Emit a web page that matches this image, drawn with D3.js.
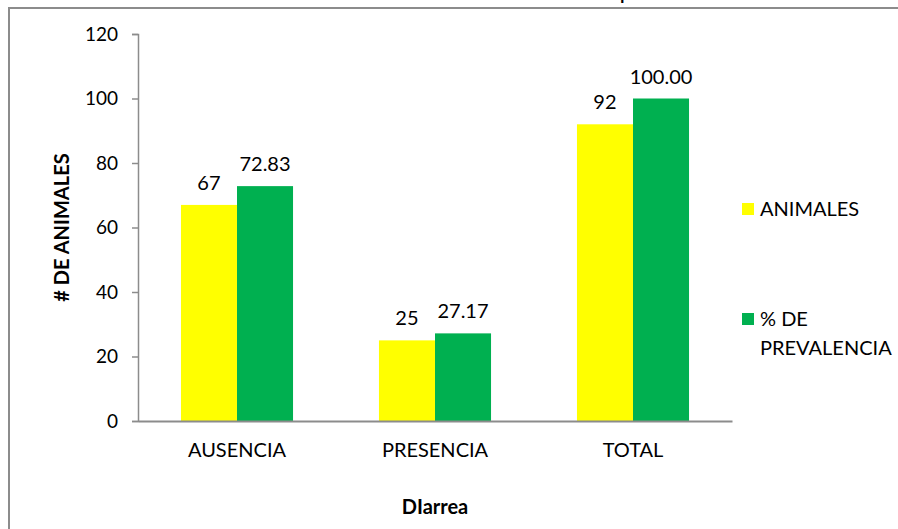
<!DOCTYPE html>
<html>
<head>
<meta charset="utf-8">
<script src="https://cdn.jsdelivr.net/npm/d3@7"></script>
<style>
  html, body { margin: 0; padding: 0; background: #fff; }
  svg { display: block; }
  text { font-family: Lato, "Open Sans", sans-serif; fill: #000; }
</style>
</head>
<body>
<svg id="chart" width="898" height="529"></svg>
<script>
// Diarrhoea: number of animals and prevalence by category
const categories = ["AUSENCIA", "PRESENCIA", "TOTAL"];
const animales = [67, 25, 92];
const prevalencia = [72.83, 27.17, 100.00];
const seriesNames = ["ANIMALES", "% DE PREVALENCIA"];
const yTicks = [0, 20, 40, 60, 80, 100, 120];

const colors = ["#FFFF00", "#00B050"];
const svg = d3.select("#chart");

// Heading that sits above the frame
svg.append("text")
  .attr("x", 4).attr("y", -1)
  .style("font-size", "24px")
  .text("Gráfica 3. Número de animales afectados con diarrea en la población en estudio");

// Outer frame (left and top edges visible)
svg.append("path")
  .attr("d", "M9,529 L9,8 L898,8")
  .attr("fill", "none")
  .attr("stroke", "#8c8c8c")
  .attr("stroke-width", 2);

const plot = { left: 138, right: 732, top: 34, bottom: 421 };

const x0 = d3.scaleBand().domain(categories)
  .range([plot.left, plot.right]).paddingInner(0.434).paddingOuter(0.217);
const x1 = d3.scaleBand().domain([0, 1]).range([0, x0.bandwidth()]);
const y = d3.scaleLinear().domain([0, 120]).range([plot.bottom, plot.top]);

// Bars
const rows = categories.map((c, i) => ({ cat: c, vals: [animales[i], prevalencia[i]] }));
const g = svg.append("g");
const groups = g.selectAll("g.cat").data(rows).join("g")
  .attr("transform", d => `translate(${x0(d.cat)},0)`);
groups.selectAll("rect").data(d => d.vals).join("rect")
  .attr("x", (d, i) => x1(i))
  .attr("width", x1.bandwidth())
  .attr("y", d => y(d))
  .attr("height", d => y(0) - y(d))
  .attr("fill", (d, i) => colors[i]);

// Value labels
groups.selectAll("text.val").data(d => d.vals).join("text")
  .attr("class", "val")
  .attr("x", (d, i) => x1(i) + x1.bandwidth() / 2)
  .attr("y", d => y(d) - 15)
  .attr("text-anchor", "middle")
  .style("font-size", "20px")
  .text((d, i) => i === 0 ? d3.format("d")(d) : d3.format(".2f")(d));

// Y axis
const yAxis = svg.append("g")
  .attr("transform", `translate(${plot.left},0)`)
  .call(d3.axisLeft(y).tickValues(yTicks).tickSize(6).tickPadding(14));
yAxis.selectAll("path, line").attr("stroke", "#8c8c8c").attr("stroke-width", 1.5);
yAxis.selectAll("text").style("font-size", "19px").style("font-family", "Lato, sans-serif").attr("fill", "#000");

// X axis
const xAxis = svg.append("g")
  .attr("transform", `translate(0,${plot.bottom})`)
  .call(d3.axisBottom(x0).tickSize(0).tickPadding(22));
xAxis.select("path").attr("stroke", "#8c8c8c").attr("stroke-width", 2);
xAxis.selectAll("text").style("font-size", "20px").style("font-family", "Lato, sans-serif").attr("fill", "#000");

// Axis titles
svg.append("text")
  .attr("transform", `translate(69,${(plot.top + plot.bottom) / 2}) rotate(-90)`)
  .attr("text-anchor", "middle")
  .style("font-size", "20px").style("font-weight", "bold")
  .text("# DE ANIMALES");
svg.append("text")
  .attr("x", (plot.left + plot.right) / 2).attr("y", 514)
  .attr("text-anchor", "middle")
  .style("font-size", "20px").style("font-weight", "bold")
  .text("DIarrea");

// Legend
const legendY = [209, 319];
const legend = svg.append("g");
seriesNames.forEach((name, i) => {
  legend.append("rect")
    .attr("x", 742).attr("y", legendY[i] - 6)
    .attr("width", 12).attr("height", 12)
    .attr("fill", colors[i]);
});
legend.append("text").attr("x", 760).attr("y", legendY[0] + 7)
  .style("font-size", "20px").text(seriesNames[0]);
const t2 = legend.append("text").attr("x", 760).attr("y", legendY[1] + 7)
  .style("font-size", "20px");
t2.append("tspan").attr("x", 760).text("% DE");
t2.append("tspan").attr("x", 760).attr("dy", 29).text("PREVALENCIA");
</script>
</body>
</html>
